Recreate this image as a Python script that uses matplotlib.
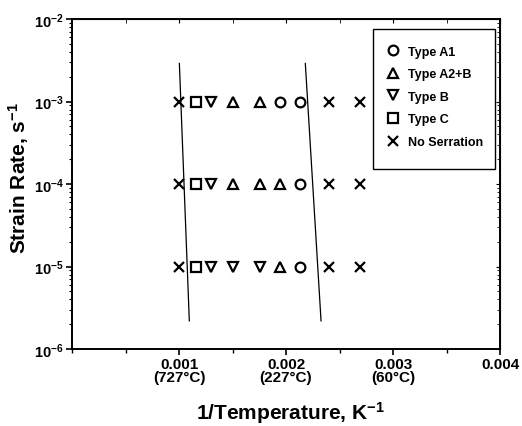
import matplotlib
matplotlib.use("Agg")
import matplotlib.pyplot as plt
from matplotlib.patches import Rectangle
from matplotlib.ticker import LogLocator, MultipleLocator, NullFormatter

plt.rcParams["font.family"] = ["Liberation Sans", "DejaVu Sans"]
plt.rcParams["font.weight"] = "bold"
plt.rcParams["mathtext.fontset"] = "custom"
plt.rcParams["mathtext.rm"] = "Liberation Sans:bold"
plt.rcParams["mathtext.it"] = "Liberation Sans:bold"
plt.rcParams["mathtext.bf"] = "Liberation Sans:bold"

# 1/T values of the test temperatures (K^-1)
inv_temp = [0.00100, 0.00116, 0.00130, 0.00150, 0.00176, 0.00194, 0.00213, 0.00240, 0.00269]
strain_rates = [1e-3, 1e-4, 1e-5]

# serration type at each (strain rate, temperature)
types = [
    ["none", "C", "B", "A2B", "A2B", "A1", "A1", "none", "none"],
    ["none", "C", "B", "A2B", "A2B", "A2B", "A1", "none", "none"],
    ["none", "C", "B", "B", "B", "A2B", "A1", "none", "none"],
]

# boundary lines
left_line_x = [0.001003, 0.001096]
right_line_x = [0.00218, 0.002327]
line_y = [2.9e-3, 2.2e-6]

x_ticks = [0.001, 0.002, 0.003, 0.004]
x_tick_labels = ["0.001\n(727°C)", "0.002\n(227°C)", "0.003\n(60°C)", "0.004"]

styles = {
    "A1": ("Type A1", "o"),
    "A2B": ("Type A2+B", "^"),
    "B": ("Type B", "v"),
    "C": ("Type C", "s"),
    "none": ("No Serration", "x"),
}

fig = plt.figure(figsize=(5.22, 4.27), dpi=100)
ax = fig.add_axes([0.138, 0.180, 0.820, 0.773])

for key, (label, marker) in styles.items():
    xs, ys = [], []
    for row, rate in zip(types, strain_rates):
        for t, x in zip(row, inv_temp):
            if t == key:
                xs.append(x)
                ys.append(rate)
    ax.plot(xs, ys, linestyle="none", marker=marker, markersize=7,
            markerfacecolor="none", markeredgecolor="black",
            markeredgewidth=1.6, label=label)

ax.plot(left_line_x, line_y, color="black", lw=0.9)
ax.plot(right_line_x, line_y, color="black", lw=0.9)

ax.set_yscale("log")
ax.set_ylim(1e-6, 1e-2)
ax.set_xlim(0, 0.004)
ax.set_xticks(x_ticks)
ax.set_xticklabels(x_tick_labels, fontsize=11, linespacing=0.85)
ax.xaxis.set_minor_locator(MultipleLocator(0.0005))
ax.yaxis.set_major_locator(LogLocator(base=10, numticks=10))
ax.yaxis.set_minor_locator(LogLocator(base=10, subs=range(2, 10), numticks=20))
ax.yaxis.set_minor_formatter(NullFormatter())
ax.tick_params(axis="y", which="major", labelsize=10.5, direction="out", length=4, width=1.2, pad=2)
ax.tick_params(axis="y", which="minor", direction="out", length=2, width=0.8)
ax.tick_params(axis="x", which="major", direction="out", length=4, width=1.2, pad=2)
ax.tick_params(axis="x", which="minor", direction="out", length=3, width=1)

top = ax.secondary_xaxis("top")
top.set_xticks(x_ticks)
top.xaxis.set_minor_locator(MultipleLocator(0.0005))
top.tick_params(which="both", direction="in", labeltop=False, length=3)
right = ax.secondary_yaxis("right")
right.tick_params(which="both", direction="in", labelright=False, length=3)
right.tick_params(which="minor", length=2)

for s in ax.spines.values():
    s.set_linewidth(1.4)

ax.set_xlabel("1/Temperature, K$^{-1}$", fontsize=15, fontweight="bold")
ax.set_ylabel("Strain Rate, s$^{-1}$", fontsize=15, fontweight="bold")
ax.xaxis.set_label_coords(0.51, -0.15)
ax.yaxis.set_label_coords(-0.095, 0.52)

leg = ax.legend(loc="upper left", bbox_to_anchor=(0.724, 0.935), frameon=False,
                fontsize=9, handlelength=1.0, handletextpad=0.7,
                labelspacing=0.85, borderaxespad=0)
ax.add_patch(Rectangle((0.703, 0.545), 0.285, 0.425, transform=ax.transAxes,
                       fill=False, edgecolor="black", lw=1.0, zorder=5))

fig.savefig("out.png", dpi=100)
